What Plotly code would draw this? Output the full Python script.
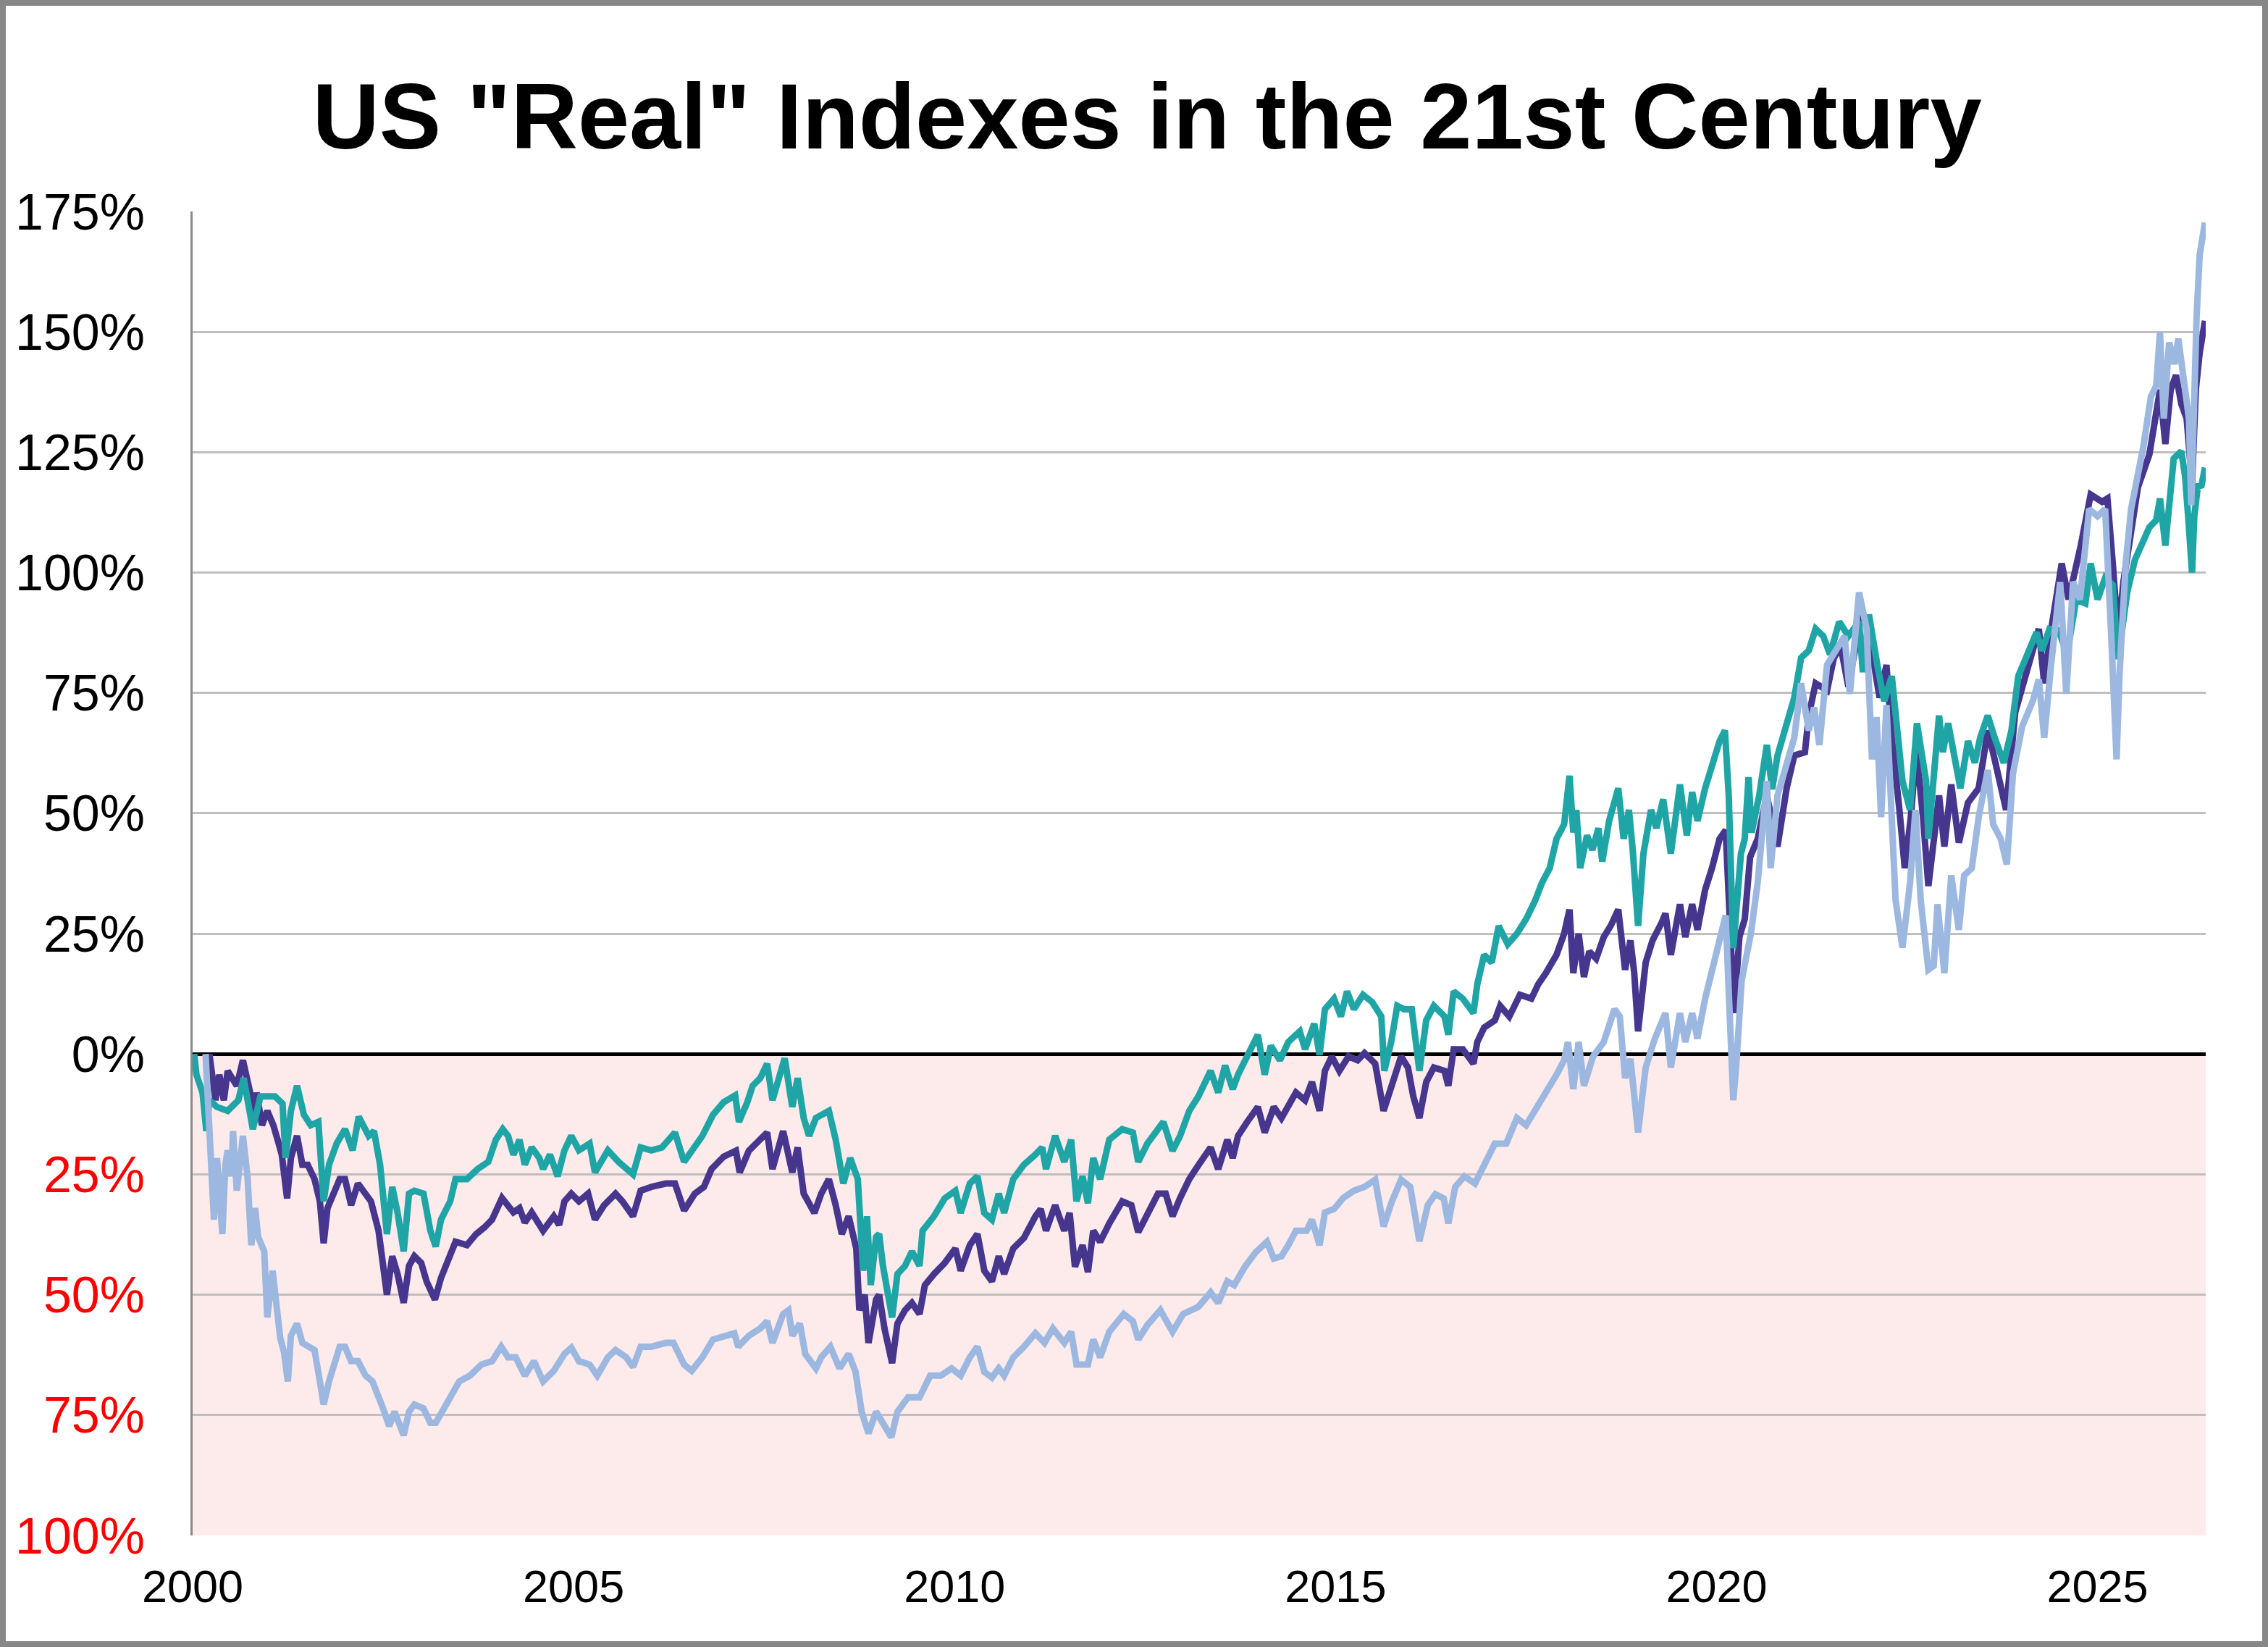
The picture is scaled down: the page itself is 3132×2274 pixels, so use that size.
import plotly.graph_objects as go

# ---------------- data (real % change from each index's starting peak) ----------------
dow_x = [2000.02,2000.05,2000.13,2000.18,2000.22,2000.32,2000.46,2000.6,2000.67,2000.74,2000.79,2000.89,
 2001.08,2001.18,2001.22,2001.29,2001.37,2001.46,2001.55,2001.65,2001.72,2001.79,2001.89,2002.0,2002.1,
 2002.18,2002.31,2002.38,2002.46,2002.55,2002.62,2002.69,2002.77,2002.84,2002.91,2003.03,2003.12,2003.19,
 2003.26,2003.38,2003.45,2003.6,2003.74,2003.88,2003.98,2004.07,2004.14,2004.21,2004.29,2004.36,2004.45,
 2004.55,2004.6,2004.69,2004.79,2004.88,2004.97,2005.07,2005.21,2005.28,2005.35,2005.45,2005.59,2005.78,
 2005.88,2006.02,2006.16,2006.33,2006.45,2006.55,2006.69,2006.83,2006.97,2007.12,2007.17,2007.28,2007.35,
 2007.45,2007.54,2007.61,2007.68,2007.77,2007.87,2007.94,2008.02,2008.09,2008.18,2008.35,2008.44,2008.54,
 2008.63,2008.73,2008.8,2008.85,2008.9,2008.97,2009.01,2009.06,2009.18,2009.25,2009.35,2009.44,2009.54,
 2009.58,2009.73,2009.87,2010.01,2010.08,2010.2,2010.3,2010.39,2010.49,2010.58,2010.65,2010.77,2010.91,
 2011.06,2011.15,2011.2,2011.32,2011.44,2011.53,2011.6,2011.68,2011.75,2011.82,2011.91,2012.03,2012.2,
 2012.34,2012.41,2012.53,2012.67,2012.74,2012.86,2012.96,2013.08,2013.2,2013.36,2013.46,2013.55,2013.65,
 2013.72,2013.84,2013.98,2014.07,2014.15,2014.27,2014.38,2014.53,2014.6,2014.72,2014.79,2014.86,2014.98,
 2015.07,2015.15,2015.24,2015.36,2015.48,2015.6,2015.64,2015.73,2015.81,2015.9,2016.0,2016.1,2016.19,
 2016.29,2016.43,2016.48,2016.55,2016.67,2016.81,2016.86,2016.95,2017.05,2017.14,2017.26,2017.38,2017.5,
 2017.62,2017.71,2017.81,2017.9,2018.0,2018.07,2018.12,2018.16,2018.21,2018.3,2018.37,2018.45,2018.5,
 2018.59,2018.71,2018.78,2018.85,2018.9,2018.97,2019.04,2019.14,2019.21,2019.3,2019.4,2019.52,2019.61,
 2019.68,2019.75,2019.85,2019.94,2020.04,2020.11,2020.16,2020.22,2020.28,2020.32,2020.37,2020.42,2020.46,
 2020.56,2020.66,2020.73,2020.8,2020.92,2021.02,2021.11,2021.21,2021.3,2021.4,2021.49,2021.61,2021.73,
 2021.87,2021.92,2022.0,2022.11,2022.2,2022.3,2022.37,2022.44,2022.54,2022.63,2022.75,2022.78,2022.92,
 2022.97,2023.04,2023.11,2023.2,2023.3,2023.39,2023.46,2023.56,2023.65,2023.77,2023.87,2023.96,2024.1,
 2024.2,2024.27,2024.37,2024.49,2024.6,2024.72,2024.84,2024.91,2025.0,2025.1,2025.2,2025.27,2025.32,
 2025.39,2025.49,2025.58,2025.68,2025.77,2025.82,2025.89,2025.96,2026.0,2026.1,2026.15,2026.2,2026.24,
 2026.27,2026.32,2026.36,2026.41]
dow_y = [0,-4.3,-8,-16,-9.6,-11,-11.8,-9.6,-5,-10.3,-15.6,-8.8,
 -8.8,-10.3,-21.6,-11.8,-6.6,-12.6,-14.8,-14.1,-30.6,-23,-18.6,-15.6,-20,
 -13,-17,-16,-23,-37.4,-27.6,-33,-41,-29,-28.4,-29,-36.7,-40,
 -34.4,-30.6,-26,-26,-23.9,-22.4,-17.8,-15.6,-17,-20.9,-17.8,-23,-19.4,
 -21.6,-23.9,-20.9,-25.4,-20,-17,-20,-18.6,-24.6,-22.4,-20,-22.4,-25,
 -19.4,-20,-19.4,-16.3,-22.4,-20,-17,-12.6,-10,-8.6,-14.1,-10,-6.6,
 -5,-2,-9.6,-5.8,-0.9,-11,-5,-13.3,-17,-13.3,-11.8,-17.8,-26.9,
 -21.6,-26,-45,-33.7,-48,-38,-37.4,-44,-54.7,-45.7,-44,-41,-44,
 -36.7,-33.7,-30,-28.4,-33,-26.9,-25.4,-33,-34.4,-29,-33,-26,-23,
 -20.9,-19.4,-23.9,-17,-22.4,-17.8,-30.6,-25.4,-31,-21.6,-26,-17.8,-15.6,
 -16.3,-22.4,-18.6,-15.6,-14.1,-20.1,-17,-11.8,-8.8,-3.5,-8,-2.4,-7.3,
 -4.3,-0.5,4,-4.3,1.7,-1.3,2.5,4.7,1,6.3,-0.2,9.3,11.5,
 7.8,13,9.3,12.3,10.8,7.8,-3.5,2.5,10,9.3,9.3,-3.5,7,
 10,7.8,4,13,11.5,8.5,14.5,20.6,19,26.6,22.8,25,28,
 31.9,35.6,38.6,44.7,47.7,57.8,46,50.7,38.6,45.4,42.4,46.9,40,
 48.4,55.2,44.7,50.7,42.4,26.6,41.6,50.7,46.9,52.9,41.6,56,45.4,
 54.4,48.4,55.2,59.7,65,67.2,53.7,22,34.9,41.6,44.7,57.5,46,
 53.7,64.2,55,62,68.7,74,82.3,83.8,88.3,86.8,83,89.8,86.8,
 89.8,79.3,91.3,80.8,73.3,78.5,65.7,56.7,50.7,68.7,56.7,44.7,70.3,
 62.7,68.7,62.7,55.2,65,60.5,65.7,70.3,65.7,60.5,67.2,78.5,83.8,
 87.6,83.8,88.3,88,83,94.4,93.6,101.9,94.4,98.9,97.4,82,88,
 95.9,102.6,105.6,109.4,110.9,115.4,105.6,119.9,123.7,125.2,119.9,109.4,100,
 111.7,118.4,117.7,121.8]

sp_x = [2000.22,2000.26,2000.3,2000.35,2000.41,2000.46,2000.53,2000.58,2000.66,2000.75,2000.82,2000.84,
 2000.91,2000.98,2001.06,2001.13,2001.17,2001.24,2001.29,2001.37,2001.44,2001.51,2001.6,2001.67,2001.72,
 2001.77,2001.86,2001.93,2002.0,2002.08,2002.17,2002.27,2002.34,2002.44,2002.48,2002.55,2002.62,2002.69,
 2002.77,2002.84,2002.91,2003.0,2003.07,2003.18,2003.26,2003.36,2003.45,2003.6,2003.72,2003.83,2003.93,
 2004.06,2004.14,2004.21,2004.29,2004.36,2004.45,2004.6,2004.74,2004.81,2004.88,2004.97,2005.07,2005.19,
 2005.28,2005.4,2005.55,2005.64,2005.78,2005.88,2006.02,2006.21,2006.33,2006.45,2006.59,2006.71,2006.81,
 2006.97,2007.13,2007.18,2007.3,2007.45,2007.54,2007.61,2007.75,2007.87,2007.94,2008.02,2008.16,2008.25,
 2008.35,2008.44,2008.52,2008.61,2008.71,2008.75,2008.82,2008.87,2008.97,2009.01,2009.08,2009.18,2009.25,
 2009.35,2009.44,2009.54,2009.61,2009.73,2009.87,2010.01,2010.08,2010.2,2010.3,2010.39,2010.49,2010.58,
 2010.65,2010.77,2010.91,2011.06,2011.13,2011.2,2011.32,2011.44,2011.51,2011.58,2011.68,2011.75,2011.82,
 2011.91,2012.03,2012.2,2012.32,2012.41,2012.53,2012.67,2012.77,2012.86,2012.96,2013.08,2013.2,2013.36,
 2013.46,2013.58,2013.65,2013.72,2013.84,2013.98,2014.07,2014.19,2014.29,2014.38,2014.48,2014.6,2014.69,
 2014.79,2014.86,2014.95,2015.05,2015.17,2015.29,2015.38,2015.52,2015.63,2015.74,2015.86,2015.95,2016.02,
 2016.1,2016.19,2016.29,2016.43,2016.48,2016.55,2016.67,2016.81,2016.86,2016.95,2017.09,2017.16,2017.28,
 2017.42,2017.57,2017.66,2017.76,2017.9,2018.0,2018.07,2018.12,2018.19,2018.26,2018.33,2018.42,2018.52,
 2018.61,2018.71,2018.8,2018.87,2018.92,2018.97,2019.07,2019.16,2019.28,2019.33,2019.4,2019.52,2019.59,
 2019.68,2019.75,2019.85,2019.94,2020.04,2020.12,2020.17,2020.23,2020.3,2020.37,2020.44,2020.54,2020.66,
 2020.73,2020.8,2020.92,2021.02,2021.16,2021.21,2021.3,2021.45,2021.54,2021.63,2021.73,2021.83,2021.9,
 2021.99,2022.06,2022.14,2022.23,2022.3,2022.4,2022.47,2022.55,2022.62,2022.71,2022.78,2022.87,2022.92,
 2022.99,2023.08,2023.18,2023.3,2023.44,2023.56,2023.65,2023.8,2023.92,2024.06,2024.23,2024.3,2024.39,
 2024.53,2024.62,2024.78,2024.91,2025.06,2025.13,2025.2,2025.27,2025.34,2025.44,2025.53,2025.68,2025.75,
 2025.82,2025.89,2025.96,2026.03,2026.1,2026.17,2026.24,2026.29,2026.34,2026.41]
sp_y = [0,-5,-9.6,-4.3,-9.6,-3.5,-5,-6.6,-1.3,-8,-12.6,-8,
 -14.8,-11.8,-14.8,-18.6,-20.9,-30,-21.6,-17,-23,-23,-26,-30.6,-39.3,
 -32,-28.4,-26,-26,-31.4,-26.9,-29,-30.6,-36.7,-41,-50,-42,-45.7,
 -51.7,-44,-42,-43.4,-47.2,-51,-46.5,-42.7,-39,-39.7,-37.4,-36,-34.4,
 -29.9,-31.4,-32.9,-32,-35,-32.9,-36.7,-33.7,-35.5,-30.6,-29,-30.6,-29,
 -34.4,-31.4,-29,-30.6,-33.7,-28.4,-27.6,-26.9,-26.9,-32.5,-29,-27.6,-23.9,
 -21.3,-20.1,-24.6,-20.1,-17.8,-16.3,-23.9,-16,-24.6,-19.4,-29,-33,-29,
 -26,-31.4,-37.4,-33.7,-40.4,-53.2,-50,-60,-51,-50,-57,-64.2,-56,
 -53.2,-51.7,-54,-48,-45.7,-43.4,-40.4,-45,-39.7,-37.4,-45,-47.2,-42,
 -45.7,-40.4,-38.2,-33.7,-32.2,-36.7,-31.4,-36.7,-33,-44.2,-39.7,-45.3,-36.7,
 -39,-35.2,-30.6,-31.4,-37,-33,-29,-29,-33.7,-29.9,-26,-23.1,-19.4,
 -23.9,-17.8,-21.6,-17,-14.1,-11,-16.3,-11,-13.3,-11,-8,-9.6,-5.8,
 -11.8,-3.5,-0.5,-3.5,-0.5,-1.3,0.2,-2,-11.8,-6.6,-0.5,-2.8,-8.8,
 -13.3,-5.8,-2.8,-3.5,-6.6,1,1,-2,2.5,5.5,7,10,7.8,
 12.3,11.5,14.5,16.8,20.6,25,30,16.8,25,16,21.3,19.8,24.3,
 26.6,30,17.5,23.6,16.8,4.7,19,23.6,27.3,29.2,20.6,31.1,24.3,
 31.1,25.8,34.1,38.6,44.7,46.5,31.1,8.5,24.3,28,40.9,44.7,53.7,
 47.7,43.1,55.2,62,62.7,70.3,77,75.5,82.3,84.6,76.3,84.6,91.3,
 88.3,80.8,74,80.8,65.7,50.7,38.6,49.2,63.5,49.2,34.9,46.9,53.7,
 43.1,56,43.9,52.2,55.2,67.2,61.2,50.7,71,79.3,88.3,77,88,
 101.9,94.4,105.6,116.2,114.7,115.4,101.9,86.8,98.1,109.4,117.7,124.5,132,
 138,126.7,138,141,135,132,118.4,138,145.6,152.3]

nq_x = [2000.17,2000.22,2000.28,2000.32,2000.36,2000.39,2000.43,2000.46,2000.51,2000.53,2000.58,2000.63,
 2000.66,2000.72,2000.77,2000.82,2000.86,2000.94,2000.98,2001.05,2001.1,2001.15,2001.2,2001.25,2001.29,
 2001.37,2001.44,2001.51,2001.6,2001.67,2001.72,2001.79,2001.86,2001.93,2002.0,2002.08,2002.17,2002.27,
 2002.36,2002.43,2002.5,2002.58,2002.65,2002.77,2002.84,2002.91,2003.03,2003.12,2003.19,2003.26,2003.38,
 2003.5,2003.64,2003.79,2003.93,2004.05,2004.14,2004.24,2004.36,2004.48,2004.6,2004.74,2004.88,2004.97,
 2005.07,2005.21,2005.31,2005.45,2005.55,2005.69,2005.78,2005.88,2006.02,2006.21,2006.31,2006.45,2006.55,
 2006.69,2006.83,2006.97,2007.11,2007.16,2007.3,2007.45,2007.54,2007.61,2007.75,2007.82,2007.87,2007.97,
 2008.04,2008.18,2008.25,2008.37,2008.49,2008.61,2008.7,2008.78,2008.87,2008.97,2009.06,2009.17,2009.25,
 2009.39,2009.54,2009.68,2009.82,2009.96,2010.08,2010.2,2010.3,2010.39,2010.49,2010.58,2010.65,2010.77,
 2010.91,2011.06,2011.18,2011.29,2011.44,2011.53,2011.6,2011.75,2011.82,2011.91,2012.03,2012.22,2012.34,
 2012.41,2012.53,2012.7,2012.86,2013.0,2013.2,2013.36,2013.46,2013.58,2013.67,2013.81,2013.95,2014.1,
 2014.19,2014.29,2014.38,2014.48,2014.62,2014.69,2014.79,2014.86,2014.98,2015.1,2015.24,2015.38,2015.52,
 2015.63,2015.74,2015.86,2015.98,2016.1,2016.21,2016.31,2016.42,2016.48,2016.57,2016.69,2016.83,2016.95,
 2017.09,2017.24,2017.38,2017.5,2017.62,2017.76,2017.9,2018.0,2018.05,2018.12,2018.19,2018.26,2018.38,
 2018.52,2018.66,2018.73,2018.8,2018.87,2018.97,2019.07,2019.19,2019.33,2019.4,2019.52,2019.59,2019.68,
 2019.75,2019.85,2019.97,2020.06,2020.12,2020.16,2020.22,2020.26,2020.33,2020.45,2020.54,2020.66,2020.71,
 2020.8,2020.92,2021.02,2021.11,2021.21,2021.28,2021.35,2021.45,2021.59,2021.68,2021.75,2021.87,2021.97,
 2022.04,2022.1,2022.16,2022.23,2022.3,2022.35,2022.44,2022.54,2022.61,2022.68,2022.78,2022.85,2022.9,
 2022.99,2023.08,2023.18,2023.25,2023.35,2023.44,2023.56,2023.63,2023.73,2023.81,2023.89,2024.01,2024.15,
 2024.23,2024.3,2024.39,2024.51,2024.59,2024.68,2024.77,2024.89,2025.0,2025.1,2025.18,2025.25,2025.29,
 2025.37,2025.44,2025.51,2025.6,2025.7,2025.77,2025.82,2025.87,2025.94,2026.01,2026.06,2026.13,2026.2,
 2026.23,2026.27,2026.3,2026.34,2026.39,2026.41]
nq_y = [0,-14,-34.4,-21.6,-30.6,-37.4,-23,-20,-25.4,-16,-28.4,-21.6,
 -17,-25.4,-39.7,-32,-38,-41,-54.7,-45,-51,-59,-62,-68,-58.5,
 -56,-60,-60.8,-61.5,-68,-72.8,-68,-63.8,-60.8,-60.8,-63.8,-63.8,-66.8,
 -68,-71.3,-73.6,-77.3,-74.3,-79.2,-74.3,-72.8,-73.6,-76.6,-76.6,-74.7,-71.3,
 -68,-66.8,-64.5,-63.8,-60.8,-63,-63,-66.8,-63.8,-68,-65.8,-62.3,-61,
 -63.8,-64.5,-66.8,-63,-61.5,-63,-65,-60.8,-60.8,-60,-60,-64.5,-65.8,
 -63,-59.3,-58.5,-58,-60.8,-58.5,-57,-55.5,-60,-54,-53.2,-58.5,-56,
 -62.3,-65.3,-63,-60.8,-65.3,-62.3,-66,-74.3,-78.8,-74.3,-76.6,-79.6,-74.3,
 -71.3,-71.3,-66.8,-66.8,-65.3,-66.8,-63,-60.8,-66,-67.2,-65.3,-66.8,-63,
 -60.8,-58,-60,-57,-60,-57.7,-64.5,-64.5,-59.3,-63,-57.7,-54,-55.5,
 -59.3,-56.3,-53.2,-57.7,-54,-52.5,-49.5,-51.7,-47.2,-48,-44.2,-41.2,-39,
 -42.5,-42,-39.7,-36.7,-36.7,-34.4,-39.7,-32.9,-32.2,-29.9,-28.4,-27.6,-26.1,
 -35.8,-30.6,-26.1,-27.6,-38.9,-31.4,-29.1,-30,-35.2,-27.6,-25.4,-26.9,-23.1,
 -18.6,-18.6,-13.3,-14.8,-11.8,-8,-4.3,-1.3,2.5,-7.3,2.5,-6.6,-0.5,
 2.5,9.3,7.8,-5,-1,-16.3,-2.8,3.2,8.5,-2.8,8.5,2.5,8.5,
 3.2,11.5,19,24.3,28.8,13,-9.6,-2,15.3,25,35.6,56.7,38.6,
 53.7,60.5,65.7,77,67.2,72,64.2,80.8,84.6,86.8,74.8,95.9,88.3,
 61.2,70,49.2,72.5,50.7,31.9,22.1,35.6,50.7,31.9,17.5,18.3,31.1,
 16.8,37.1,25.8,37.1,38.6,49.2,59,47.7,44.7,39.4,58.2,68,73.3,
 77.8,65.7,80.8,98,74.8,98.1,94.4,113.2,111.7,113.2,86.8,61.2,79.3,
 101.9,113.2,118.4,126,136.5,138.8,150,132,147.8,143.3,148.6,139.5,132,
 114,139.5,153,165.9,172,172.7]

# ---------------- axis labels ----------------
y_tick_vals = [-100, -75, -50, -25, 0, 25, 50, 75, 100, 125, 150, 175]
y_tick_labels = ["100%", "75%", "50%", "25%", "0%", "25%", "50%", "75%", "100%", "125%", "150%", "175%"]
x_tick_vals = [2000, 2005, 2010, 2015, 2020, 2025]
x_tick_labels = ["2000", "2005", "2010", "2015", "2020", "2025"]
title_text = 'US "Real" Indexes in the 21st Century'

# ---------------- styling ----------------
TEAL = "#20A5A7"
PURPLE = "#46368E"
LIGHT = "#9DB8E0"
W, H = 3132, 2274
ML, MR, MT, MB = 266, 86, 292, 154
PW, PH = W - ML - MR, H - MT - MB

ticktext_y = [f'<span style="color:#FF0000">{t}</span>' if v < 0 else t
              for v, t in zip(y_tick_vals, y_tick_labels)]

fig = go.Figure()
for xs, ys, col in [(sp_x, sp_y, PURPLE), (dow_x, dow_y, TEAL), (nq_x, nq_y, LIGHT)]:
    fig.add_trace(go.Scatter(x=xs, y=ys, mode="lines",
                             line=dict(color=col, width=9),
                             showlegend=False, hoverinfo="skip"))

# pink negative zone
fig.add_shape(type="rect", xref="paper", yref="y", x0=0, x1=1, y0=-100, y1=0,
              fillcolor="#FDEBEB", line=dict(width=0), layer="below")

# outer grey frame
def px_to_paper_x(px):
    return (px - ML) / PW

def px_to_paper_y(py):
    return (H - MB - py) / PH

fig.add_shape(type="rect", xref="paper", yref="paper",
              x0=px_to_paper_x(4), x1=px_to_paper_x(W - 4),
              y0=px_to_paper_y(H - 4), y1=px_to_paper_y(4),
              line=dict(color="#878787", width=8), fillcolor="rgba(0,0,0,0)", layer="above")

fig.update_layout(
    width=W, height=H,
    margin=dict(l=ML, r=MR, t=MT, b=MB),
    paper_bgcolor="white", plot_bgcolor="white",
    font=dict(family="Liberation Sans, Arial, sans-serif", color="black"),
    title=dict(text=title_text, x=1584 / W, xanchor="center", xref="container",
               y=1 - 160 / H, yanchor="middle", yref="container",
               font=dict(size=128, color="black", weight="bold",
                         family="Liberation Sans, Arial, sans-serif")),
)

fig.update_xaxes(range=[2000, 2026.42], tickvals=x_tick_vals, ticktext=x_tick_labels,
                 showgrid=False, zeroline=False, showline=False,
                 ticks="outside", ticklen=0, tickcolor="rgba(0,0,0,0)",
                 tickfont=dict(size=63, color="black"), ticklabelstandoff=15)

fig.update_yaxes(range=[-100, 175], tickvals=y_tick_vals, ticktext=ticktext_y,
                 showgrid=True, gridcolor="#BFBFBF", gridwidth=2.5,
                 zeroline=True, zerolinecolor="black", zerolinewidth=5,
                 showline=True, linecolor="#898989", linewidth=3,
                 ticks="outside", ticklen=0, tickcolor="rgba(0,0,0,0)",
                 tickfont=dict(size=70, color="black"), ticklabelstandoff=49)

fig.write_html("out.html")
